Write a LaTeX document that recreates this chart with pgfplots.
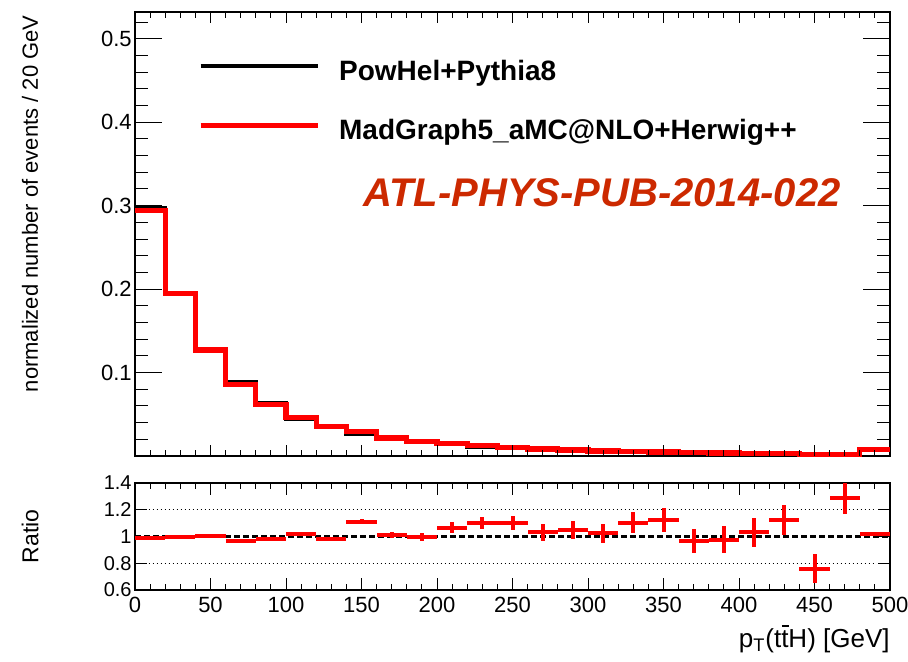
\documentclass[border=0pt]{standalone}
\usepackage{pgfplots}
\pgfplotsset{compat=1.18}
\usepackage{fontspec}
\setmainfont{Liberation Sans}
\definecolor{atlred}{RGB}{204,41,0}
\newcommand\tbar{\leavevmode\hbox{\rlap{\kern0.02em\raisebox{0.78em}{\rule{0.27em}{0.07em}}}t}}
\pgfplotsset{
  common/.style={scale only axis, width=377.5pt, xmin=0, xmax=500,
    axis line style={line width=0.6pt},
    every tick/.style={black, line width=0.5pt},
    tick pos=both,
    /pgf/number format/assume math mode=true,
    tick label style={font=\fontsize{11}{13}\selectfont},
    yticklabel style={inner sep=0pt, xshift=-1.5pt},
    xticklabel style={inner sep=0pt, yshift=-3.5pt}}
}
\begin{document}
\begin{tikzpicture}
\path[use as bounding box] (0,0) rectangle (454pt,-331pt);
% main panel
\begin{axis}[common, at={(67.5pt,-6pt)}, anchor=north west, height=222pt,
  ymin=0, ymax=0.532,
  ytick={0.1,0.2,0.3,0.4,0.5},
  minor ytick={0.02,0.04,0.06,0.08,0.12,0.14,0.16,0.18,0.22,0.24,0.26,0.28,0.32,0.34,0.36,0.38,0.42,0.44,0.46,0.48,0.52},
  xtick=\empty,
  major tick length=13.5pt, minor tick length=6.5pt,
  yticklabel style={/pgf/number format/fixed, /pgf/number format/precision=1},
  ylabel={normalized number of events / 20 GeV},
  ylabel style={at={(axis description cs:-0.139,0.993)}, anchor=east, inner sep=0pt, font=\fontsize{11}{13}\selectfont},
  legend style={at={(axis description cs:0.0834,0.8915)}, anchor=north west,
    draw=none, fill=none, inner sep=0pt, outer sep=0pt,
    font=\fontsize{14}{16}\selectfont\bfseries,
    row sep=18pt, column sep=9.5pt, nodes={inner sep=0pt}},
  legend cell align=left,
  legend image code/.code={\draw[#1] (0pt,0.3em) -- (58.5pt,0.3em);},
]
\addplot[const plot, black, line width=2.2pt] table {
x y
0 0.297
20 0.195
40 0.1267
60 0.0884
80 0.0631
100 0.0450
120 0.0356
140 0.0265
160 0.0212
180 0.0175
200 0.0141
220 0.0111
240 0.0093
260 0.0083
280 0.0070
300 0.0059
320 0.0050
340 0.0043
360 0.0042
380 0.0038
400 0.0032
420 0.0025
440 0.0021
460 0.0013
480 0.0078
500 0.0078
};
\addlegendentry{PowHel+Pythia8}
\addplot[const plot, red, line width=2.6pt] table {
x y
0 0.294
20 0.195
40 0.127
60 0.0857
80 0.062
100 0.046
120 0.035
140 0.0294
160 0.0215
180 0.0175
200 0.0150
220 0.0122
240 0.0102
260 0.0085
280 0.0073
300 0.0060
320 0.0055
340 0.0048
360 0.0040
380 0.0037
400 0.0033
420 0.0028
440 0.0016
460 0.0017
480 0.0080
500 0.0080
};
\addlegendentry{MadGraph5\_aMC@NLO+Herwig++}
\node[anchor=base, inner sep=0pt, text=atlred, font=\fontsize{20}{22}\selectfont\bfseries\itshape]
  at (axis description cs:0.6185,0.563) {ATL-PHYS-PUB-2014-022};
\end{axis}
% x ticks of main panel
\begin{axis}[common, at={(67.5pt,-6pt)}, anchor=north west, height=222pt,
  ymin=0, ymax=0.532, ytick=\empty,
  xtick={0,50,...,500}, minor xtick={0,10,...,500}, xticklabels={},
  major tick length=5.5pt, minor tick length=3pt,
  axis line style={draw=none}]
\end{axis}
% ratio panel
\begin{axis}[common, at={(67.5pt,-241.5pt)}, anchor=north west, height=53.5pt,
  ymin=0.6, ymax=1.4,
  ytick={0.6,0.8,1,1.2,1.4},
  xtick={0,50,...,500}, minor xtick={0,10,...,500},
  major tick length=6pt, minor tick length=3pt,
  yticklabel style={font=\fontsize{10}{12}\selectfont},
  ylabel=Ratio,
  ylabel style={at={(axis description cs:-0.139,0.5)}, anchor=center, inner sep=0pt, font=\fontsize{11.5}{13}\selectfont},
  xlabel={p\textsubscript{T}(t\tbar H) [GeV]},
  xlabel style={at={(axis description cs:1,0)}, anchor=north east, inner sep=0pt, yshift=-17.5pt, font=\fontsize{13}{15}\selectfont},
]
\addplot[black, line width=0.5pt, dash pattern=on 0.6pt off 1.4pt] coordinates {(9,1.2) (491,1.2)};
\addplot[black, line width=0.5pt, dash pattern=on 0.6pt off 1.4pt] coordinates {(9,0.8) (491,0.8)};
\addplot[black, line width=1.4pt, dash pattern=on 3pt off 1.5pt] coordinates {(0,1) (500,1)};
\addplot[red, draw=none, mark=none,
  error bars/.cd, x dir=both, x explicit, y dir=both, y explicit,
  error mark=none, error bar style={draw=red, solid, line width=2pt}]
  table[x=x, y=y, x error=ex, y error=ey] {
x y ex ey
10 0.992 10 0.004
30 1.000 10 0.005
50 1.003 10 0.006
70 0.970 10 0.008
90 0.983 10 0.009
110 1.022 10 0.012
130 0.983 10 0.014
150 1.110 10 0.018
170 1.012 10 0.025
190 0.998 10 0.03
210 1.067 10 0.04
230 1.104 10 0.045
250 1.100 10 0.05
270 1.030 10 0.06
290 1.050 10 0.065
310 1.025 10 0.07
330 1.104 10 0.077
350 1.123 10 0.09
370 0.963 10 0.09
390 0.975 10 0.10
410 1.032 10 0.107
430 1.123 10 0.113
450 0.760 10 0.11
470 1.290 10 0.123
490 1.022 10 0.008
};
\end{axis}
\end{tikzpicture}
\end{document}
